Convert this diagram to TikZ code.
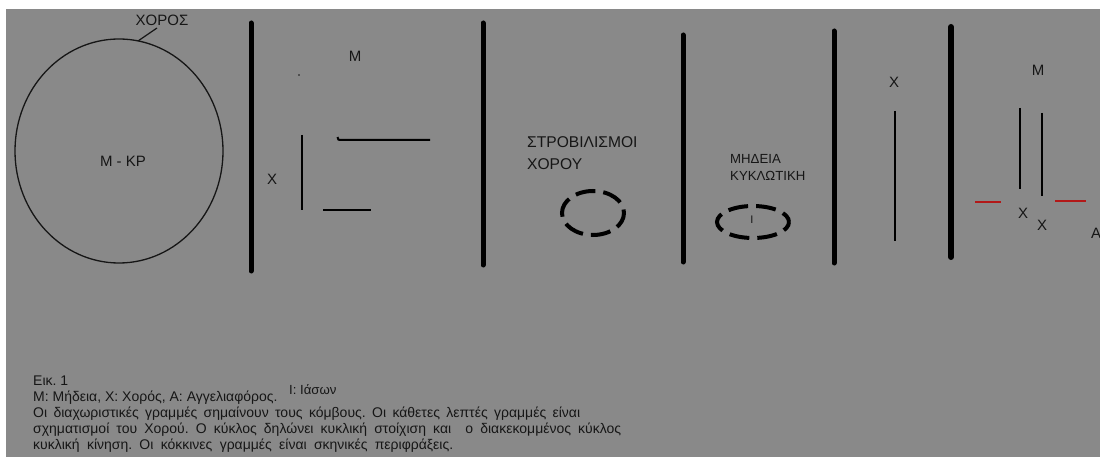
\documentclass[tikz,border=0pt]{standalone}
\usepackage{fontspec}
\setmainfont{Liberation Sans}
\frenchspacing
\definecolor{bg}{RGB}{137,137,137}
\definecolor{ink}{RGB}{22,22,22}
\definecolor{redc}{RGB}{178,24,24}
\begin{document}
\begin{tikzpicture}[x=1pt,y=-1pt,
  bar/.style={line width=5pt, line cap=round, draw=black},
  thinline/.style={line width=2pt, draw=black},
  redline/.style={line width=2.5pt, draw=redc},
  dring/.style={line width=4pt, draw=black, dash pattern=on 20pt off 8pt},
  lbl/.style={font=\fontsize{15}{18}\selectfont, text=ink, inner sep=0pt},
  smalllbl/.style={font=\fontsize{13.2}{16}\selectfont, text=ink, inner sep=0pt, anchor=base west},
  captxt/.style={font=\fontsize{14}{16}\selectfont\frenchspacing, text=ink, inner sep=0pt, anchor=base west}]
\useasboundingbox (0,0) rectangle (1100,457);
\clip (0,0) rectangle (1100,457);
\fill[white] (0,0) rectangle (1100,457);
\fill[bg] (6,9) rectangle (1100,457);

% panel 1
\draw[ink, line width=1.3pt] (119,151) ellipse [x radius=104, y radius=112];
\node[lbl] (choros) at (162,20) {ΧΟΡΟΣ};
\coordinate (chA) at (157,28);
\coordinate (chB) at (138,41);
\draw[ink, line width=1.2pt] (chA) -- (chB);
\node[lbl] (mkr) at (123,161) {Μ - ΚΡ};

% thick separators
\draw[bar] (251,23) -- (251,271);
\draw[bar] (483,23) -- (483,265);
\draw[bar] (683,35) -- (683,262);
\draw[bar] (834,31) -- (834,263);
\draw[bar, line width=6pt] (951,27) -- (951,257);

% panel 2
\node[lbl] (m2) at (355,56) {Μ};
\fill[ink] (299,75) circle (0.8);
\node[lbl] (x2) at (272,179) {Χ};
\draw[thinline] (302,135) -- (302,210);
\draw[thinline] (337.5,137) .. controls (338,140) .. (342,140) -- (430,140);
\draw[thinline] (323,210) -- (371,210);

% panel 3
\node[lbl, font=\fontsize{15.6}{18}\selectfont, anchor=base west] (strob) at (527,148) {ΣΤΡΟΒΙΛΙΣΜΟΙ};
\node[lbl, font=\fontsize{15.6}{18}\selectfont, anchor=base west] (chorou) at (527,170) {ΧΟΡΟΥ};
\draw[dring, dash phase=4pt] (593,213) ellipse [x radius=31, y radius=22];

% panel 4
\node[smalllbl] (mid) at (730,164) {ΜΗΔΕΙΑ};
\node[smalllbl] (kykl) at (730,181) {ΚΥΚΛΩΤΙΚΗ};
\draw[dring, dash phase=10pt] (753,222) ellipse [x radius=36, y radius=16];
\node[font=\fontsize{11}{13}\selectfont, text=ink, inner sep=0pt] (iason) at (752,220) {Ι};

% panel 5
\node[lbl] (x5) at (894,82) {Χ};
\draw[thinline] (895,111) -- (895,241);

% panel 6
\node[lbl] (m6) at (1038,70) {Μ};
\draw[thinline] (1020,108) -- (1020,189);
\draw[thinline] (1042,113) -- (1042,196);
\draw[redline] (975,202) -- (1001,202);
\draw[redline] (1055,201) -- (1086,201);
\node[lbl] (x6a) at (1023,213) {Χ};
\node[lbl] (x6b) at (1042,225) {Χ};
\node[lbl, anchor=base west] (a6) at (1091,238) {Α};

% caption
\node[captxt] (c1) at (33,385) {Εικ. 1};
\node[captxt] (c2) at (33,401) {Μ: Μήδεια, Χ: Χορός, Α: Αγγελιαφόρος.};
\node[captxt, font=\fontsize{13.2}{16}\selectfont] (c2b) at (289,394) {Ι: Ιάσων};
\node[captxt] (c3) at (33,417) {\hbox to 547pt{Οι διαχωριστικές γραμμές σημαίνουν τους κόμβους. Οι κάθετες λεπτές γραμμές είναι}};
\node[captxt] (c4) at (33,433) {\hbox to 588pt{σχηματισμοί του Χορού. Ο κύκλος δηλώνει κυκλική στοίχιση και\ \ ο διακεκομμένος κύκλος}};
\node[captxt] (c5) at (33,449) {\hbox to 420pt{κυκλική κίνηση. Οι κόκκινες γραμμές είναι σκηνικές περιφράξεις.}};
\end{tikzpicture}
\end{document}
